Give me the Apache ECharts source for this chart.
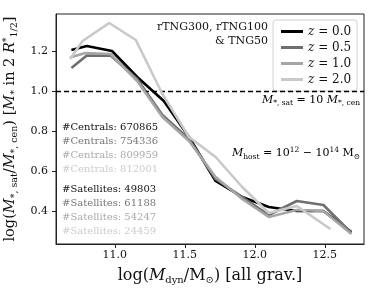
<!DOCTYPE html>
<html><head><meta charset="utf-8">
<script src="https://cdn.jsdelivr.net/npm/echarts@6/dist/echarts.min.js"></script>
<style>html,body{margin:0;padding:0;background:#fff}#c{width:374px;height:289px}</style>
</head><body><div id="c"></div>
<script>
const xTicks = [11.0, 11.5, 12.0, 12.5];
const yTicks = [0.4, 0.6, 0.8, 1.0, 1.2];
const redshifts = ['0.0', '0.5', '1.0', '2.0'];
const x_z00 = [10.69, 10.80, 10.98, 11.16, 11.35, 11.53, 11.72, 11.91, 12.10, 12.30, 12.49, 12.69];
const y_z00 = [1.205, 1.225, 1.20, 1.07, 0.95, 0.77, 0.55, 0.47, 0.42, 0.40, 0.40, 0.295];
const x_z05 = [10.69, 10.80, 10.97, 11.16, 11.34, 11.53, 11.72, 11.91, 12.10, 12.30, 12.49, 12.69];
const y_z05 = [1.115, 1.177, 1.177, 1.06, 0.88, 0.76, 0.56, 0.47, 0.38, 0.45, 0.43, 0.29];
const x_z10 = [10.68, 10.79, 10.97, 11.16, 11.34, 11.53, 11.72, 11.91, 12.10, 12.30, 12.49, 12.69];
const y_z10 = [1.168, 1.19, 1.185, 1.05, 0.87, 0.75, 0.57, 0.46, 0.37, 0.405, 0.40, 0.285];
const x_z20 = [10.68, 10.77, 10.96, 11.15, 11.34, 11.53, 11.72, 11.91, 12.10, 12.30, 12.54];
const y_z20 = [1.16, 1.25, 1.34, 1.255, 0.985, 0.77, 0.67, 0.52, 0.39, 0.425, 0.31];
const centrals = ['670865', '754336', '809959', '812001'];
const satellites = ['49803', '61188', '54247', '24459'];

const xs = [x_z00, x_z05, x_z10, x_z20];
const ys = [y_z00, y_z05, y_z10, y_z20];
const colors = ['#000000', '#6f6f6f', '#a6a6a6', '#c9c9c9'];
const textColors = ['#111111', '#777777', '#aaaaaa', '#cccccc'];
const FF = 'DejaVu Serif';

const chart = echarts.init(document.getElementById('c'), null, {renderer: 'canvas'});

const series = redshifts.map((z, k) => ({
  name: z,
  type: 'line',
  data: xs[k].map((x, i) => [x, ys[k][i]]),
  showSymbol: false,
  symbol: 'none',
  lineStyle: {color: colors[k], width: 2.6},
  itemStyle: {color: colors[k]},
  z: 3 + k
}));
series[0].markLine = {
  silent: true, symbol: 'none', label: {show: false},
  lineStyle: {color: '#000', type: [5, 3], width: 1.3},
  data: [{yAxis: 1.0}]
};

function richOf(big, small) {
  return {
    i: {fontFamily: FF, fontStyle: 'italic', fontSize: big, color: '#111'},
    n: {fontFamily: FF, fontSize: big, color: '#111'},
    s: {fontFamily: FF, fontSize: small, color: '#111', verticalAlign: 'bottom', lineHeight: small + 1},
    p: {fontFamily: FF, fontSize: small, color: '#111', verticalAlign: 'top', lineHeight: small + 1}
  };
}
const richSmall = richOf(11, 7.5);

const graphics = [];
graphics.push({type: 'text', right: 106, top: 22, style: {text: 'rTNG300, rTNG100', font: '11px "DejaVu Serif"', fill: '#111', align: 'right'}});
graphics.push({type: 'text', right: 106, top: 36, style: {text: '& TNG50', font: '11px "DejaVu Serif"', fill: '#111', align: 'right'}});
graphics.push({type: 'text', right: 14, top: 93, style: {
  text: '{i|M}{s|*, sat}{n| = 10 }{i|M}{s|*, cen}', rich: richSmall, lineHeight: 14}});
graphics.push({type: 'text', right: 14, top: 146, style: {
  text: '{i|M}{s|host}{n| = 10}{p|12}{n| − 10}{p|14}{n| M}{s|⊙}', rich: richSmall, lineHeight: 15}});
centrals.forEach((c, k) => graphics.push({type: 'text', left: 62, top: 122 + k * 14.1,
  style: {text: '#Centrals: ' + c, font: '10px "DejaVu Serif"', fill: textColors[k]}}));
satellites.forEach((c, k) => graphics.push({type: 'text', left: 62, top: 184 + k * 14,
  style: {text: '#Satellites: ' + c, font: '10px "DejaVu Serif"', fill: textColors[k]}}));

chart.setOption({
  animation: false,
  backgroundColor: '#fff',
  grid: {left: 56, right: 10, top: 14, bottom: 45, containLabel: false, outerBoundsMode: 'none',
    show: true, borderColor: '#222', borderWidth: 1, backgroundColor: 'transparent'},
  legend: {
    orient: 'vertical', left: 273, top: 20, padding: [5, 6, 5, 8], itemGap: 3,
    itemWidth: 22, itemHeight: 3, icon: 'rect',
    backgroundColor: '#fff', borderColor: '#d0d0d0', borderWidth: 1, borderRadius: 3,
    data: redshifts,
    formatter: n => '{i|z}{n| = ' + n + '}',
    textStyle: {fontFamily: FF, fontSize: 12, lineHeight: 13, color: '#111',
      rich: {i: {fontFamily: FF, fontStyle: 'italic', fontSize: 12}, n: {fontFamily: FF, fontSize: 12}}}
  },
  xAxis: {
    type: 'value', min: 10.58, max: 12.78,
    axisLine: {show: true, lineStyle: {color: '#222', width: 1}},
    axisTick: {show: true, inside: false, length: 4, customValues: xTicks, lineStyle: {color: '#222'}},
    axisLabel: {customValues: xTicks, formatter: v => v.toFixed(1), fontFamily: FF, fontSize: 11, color: '#111', margin: 6},
    splitLine: {show: false},
    name: '{n|log(}{i|M}{s|dyn}{n|/M}{s|⊙}{n|) [all grav.]}',
    nameLocation: 'middle', nameGap: 14,
    nameTextStyle: {rich: richOf(16, 10), lineHeight: 20}
  },
  yAxis: {
    type: 'value', min: 0.235, max: 1.385,
    axisLine: {show: true, lineStyle: {color: '#222', width: 1}},
    axisTick: {show: true, inside: false, length: 4, customValues: yTicks, lineStyle: {color: '#222'}},
    axisLabel: {customValues: yTicks, formatter: v => v.toFixed(1), fontFamily: FF, fontSize: 11, color: '#111', margin: 8},
    splitLine: {show: false},
    name: '{n|log(}{i|M}{s|*, sat}{n|/}{i|M}{s|*, cen}{n|) [}{i|M}{s|*}{n| in 2 }{i|R}{p|*}{s|1/2}{n|]}',
    nameLocation: 'middle', nameGap: 33, nameRotate: 90,
    nameTextStyle: {rich: richOf(14.5, 9.5), lineHeight: 18}
  },
  graphic: graphics,
  series: series
});
</script></body></html>
